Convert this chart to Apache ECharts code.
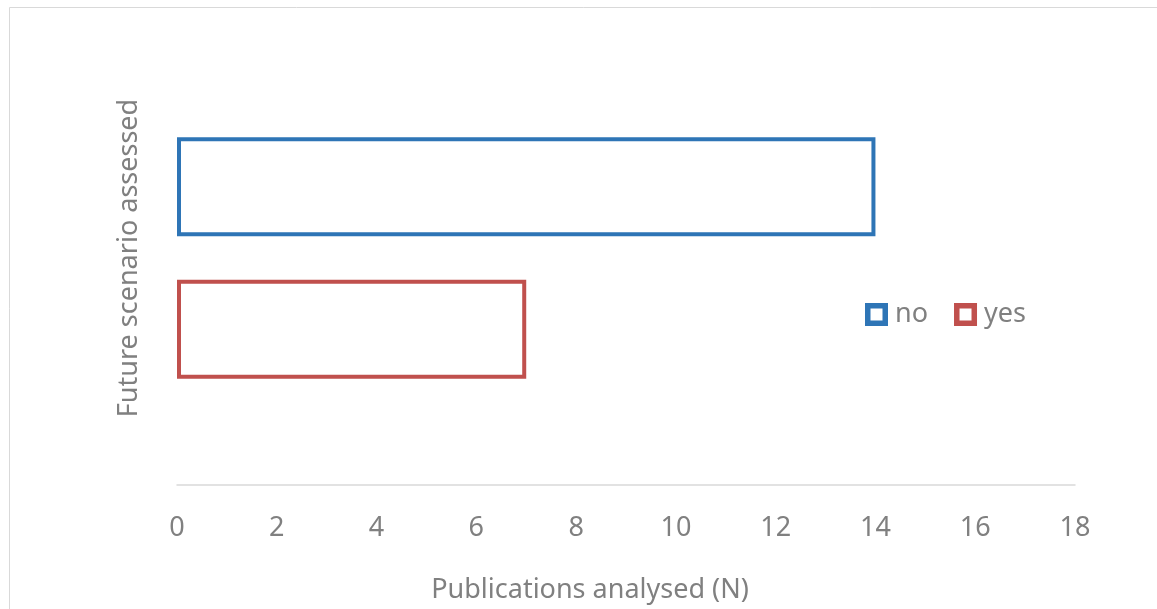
<!DOCTYPE html>
<html>
<head>
<meta charset="utf-8">
<script src="https://cdn.jsdelivr.net/npm/echarts@6/dist/echarts.min.js"></script>
<style>
html,body{margin:0;padding:0;background:#fff;}
#chart{width:1157px;height:609px;}
</style>
</head>
<body>
<div id="chart"></div>
<script>
const categories = [''];
const seriesNames = ['no', 'yes'];
const noValues = [14];
const yesValues = [7];
const xTicks = { min: 0, max: 18, interval: 2 };

const FONT = 'Noto Sans';
const GRAY = '#808080';
const BLUE = '#2E75B6';
const RED = '#C0504D';
const RING = 'path://M0,0H23V23H0Z M5.5,5.5V17.5H17.5V5.5Z';
const chart = echarts.init(document.getElementById('chart'));
chart.setOption({
  backgroundColor: '#fff',
  animation: false,
  graphic: [{
    type: 'rect',
    shape: { x: 9.5, y: 7.5, width: 1160, height: 620 },
    style: { fill: 'none', stroke: '#d9d9d9', lineWidth: 1 },
    silent: true, z: -1
  }],
  grid: { left: 177, right: 82, top: 31, bottom: 124 },
  legend: {
    data: [
      { name: seriesNames[0], icon: RING, itemStyle: { color: BLUE, borderColor: 'transparent', borderWidth: 0 } },
      { name: seriesNames[1], icon: RING, itemStyle: { color: RED, borderColor: 'transparent', borderWidth: 0 } }
    ],
    left: 865, top: 301,
    padding: 0,
    orient: 'horizontal',
    itemWidth: 23, itemHeight: 23,
    itemGap: 26,
    textStyle: { color: GRAY, fontSize: 27, fontFamily: FONT, padding: [0, 0, 0, 2] }
  },
  xAxis: {
    type: 'value',
    min: xTicks.min, max: xTicks.max, interval: xTicks.interval,
    name: 'Publications analysed (N)',
    nameLocation: 'middle',
    nameGap: 92,
    nameTextStyle: { color: GRAY, fontSize: 27, fontFamily: FONT, padding: [0, 72, 0, 0] },
    axisLine: { show: true, lineStyle: { color: '#d9d9d9', width: 1.5 } },
    axisTick: { show: false },
    splitLine: { show: false },
    axisLabel: { color: GRAY, fontSize: 27, fontFamily: FONT, margin: 30 }
  },
  yAxis: {
    type: 'category',
    data: categories,
    name: 'Future scenario assessed',
    nameLocation: 'middle',
    nameGap: 34,
    nameTextStyle: { color: GRAY, fontSize: 27, fontFamily: FONT },
    axisLine: { show: false },
    axisTick: { show: false },
    axisLabel: { show: false }
  },
  series: [
    {
      name: 'no', type: 'bar', data: noValues,
      barWidth: 99, barGap: '44%',
      itemStyle: { color: '#fff', borderColor: BLUE, borderWidth: 4 }
    },
    {
      name: 'yes', type: 'bar', data: yesValues,
      barWidth: 99, barGap: '44%',
      itemStyle: { color: '#fff', borderColor: RED, borderWidth: 4 }
    }
  ]
});
</script>
</body>
</html>
